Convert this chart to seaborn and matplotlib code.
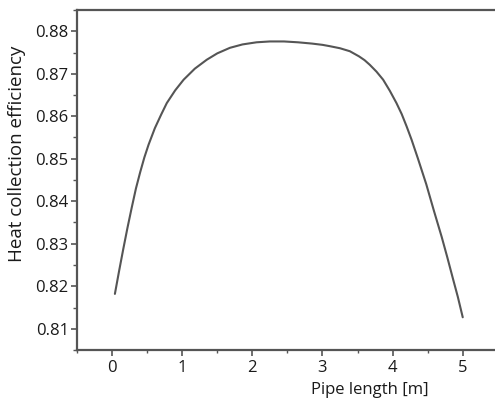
import numpy as np
import pandas as pd
import seaborn as sns
import matplotlib.pyplot as plt
from matplotlib.ticker import MultipleLocator

# values
pipe_length = [0.04, 0.10, 0.16, 0.22, 0.28, 0.34, 0.40, 0.46, 0.52, 0.61,
               0.70, 0.78, 0.90, 1.02, 1.18, 1.35, 1.50, 1.68, 1.86, 2.06,
               2.25, 2.45, 2.65, 2.85, 3.00, 3.10, 3.25, 3.39, 3.52, 3.60,
               3.675, 3.77, 3.865, 3.96, 4.055, 4.13, 4.20, 4.27, 4.36, 4.48,
               4.59, 4.70, 4.78, 4.86, 4.93, 5.00]
efficiency = [0.8182, 0.8236, 0.8288, 0.8338, 0.8385, 0.8430, 0.8468, 0.8503,
              0.8533, 0.8572, 0.8604, 0.8631, 0.8661, 0.8686, 0.8712, 0.8733,
              0.8748, 0.8761, 0.8769, 0.8774, 0.8776, 0.8776, 0.8774, 0.8771,
              0.8768, 0.8765, 0.8760, 0.8753, 0.8741, 0.8732, 0.8721, 0.8705,
              0.8686, 0.8660, 0.8631, 0.8605, 0.8576, 0.8545, 0.8501, 0.8440,
              0.8377, 0.8316, 0.8268, 0.8218, 0.8175, 0.8127]

df = pd.DataFrame({'Pipe length [m]': pipe_length,
                   'Heat collection efficiency': efficiency})

sns.set_style('ticks')
plt.rcParams['font.family'] = ['Open Sans', 'DejaVu Sans']

fig = plt.figure(figsize=(4.95, 4.0), dpi=100)
ax = fig.add_axes([0.1556, 0.125, 0.8444, 0.85])

sns.lineplot(data=df, x='Pipe length [m]', y='Heat collection efficiency',
             color='#555555', linewidth=1.5, ax=ax)

ax.set_xlim(-0.5, 5.46)
ax.set_ylim(0.805, 0.885)
ax.xaxis.set_major_locator(MultipleLocator(1))
ax.xaxis.set_minor_locator(MultipleLocator(0.5))
ax.yaxis.set_major_locator(MultipleLocator(0.01))
ax.yaxis.set_minor_locator(MultipleLocator(0.005))
ax.yaxis.set_major_formatter(lambda v, p: f'{v:.2f}')

for side in ['left', 'bottom', 'top']:
    ax.spines[side].set_color('#555555')
    ax.spines[side].set_linewidth(1.6)
ax.spines['right'].set_visible(False)

ax.tick_params(which='major', direction='out', width=1.2,
               color='#555555', labelsize=12, labelcolor='#1a1a1a')
ax.tick_params(which='minor', direction='out', width=1.0, color='#555555')
ax.tick_params(axis='y', which='major', length=4.5, pad=1.5)
ax.tick_params(axis='y', which='minor', length=3)
ax.tick_params(axis='x', which='major', length=4, pad=3)
ax.tick_params(axis='x', which='minor', length=2.5)
ax.tick_params(axis='x', which='both', top=False)

ax.set_xlabel('Pipe length [m]', fontsize=12, color='#1a1a1a')
ax.set_ylabel('Heat collection efficiency', fontsize=13.5, color='#1a1a1a')
ax.xaxis.set_label_coords(0.70, -0.094)
ax.yaxis.set_label_coords(-0.122, 0.576)

fig.savefig('out.png', dpi=100)
